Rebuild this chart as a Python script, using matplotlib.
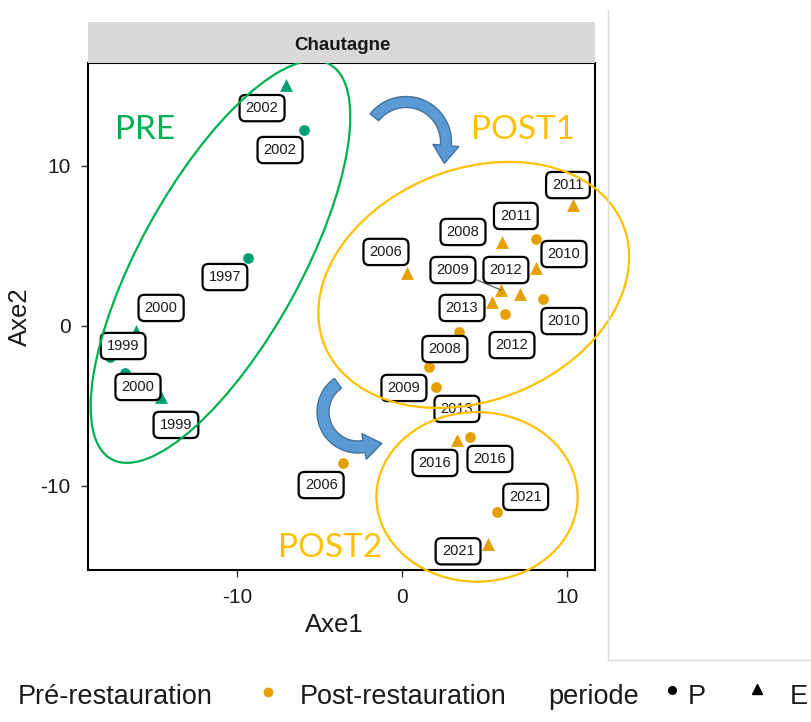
import matplotlib
matplotlib.use("Agg")
import matplotlib.pyplot as plt
import numpy as np
from matplotlib.patches import Ellipse, Polygon
from matplotlib.lines import Line2D

plt.rcParams['font.family'] = ['Liberation Sans', 'DejaVu Sans']
plt.rcParams['axes.unicode_minus'] = False

# ---------------- data ----------------
pre_years = ["2002", "2002", "1997", "2000", "1999", "2000", "1999"]
pre_period = ["E", "P", "P", "E", "P", "P", "E"]
pre_x = [-7.03, -5.94, -9.35, -16.1, -17.7, -16.8, -14.6]
pre_y = [15.04, 12.23, 4.25, -0.33, -1.95, -2.96, -4.46]

post_years = ["2006", "2006", "2008", "2008", "2009", "2009", "2010", "2010", "2011",
              "2011", "2012", "2012", "2013", "2013", "2016", "2016", "2021", "2021"]
post_period = ["E", "P", "E", "P", "E", "P", "E", "P", "E",
               "P", "E", "P", "E", "P", "E", "P", "E", "P"]
post_x = [0.30, -3.58, 6.06, 3.45, 6.00, 1.64, 8.12, 8.55, 10.36,
          8.12, 7.15, 6.24, 5.45, 2.06, 3.33, 4.12, 5.21, 5.76]
post_y = [3.29, -8.58, 5.23, -0.39, 2.23, -2.58, 3.61, 1.67, 7.53,
          5.42, 1.98, 0.73, 1.48, -3.83, -7.14, -6.96, -13.64, -11.64]

x_ticks = [-10, 0, 10]
y_ticks = [-10, 0, 10]

# ---------------- layout (label offsets from their points) ----------------
pre_lab_dx = [-1.45, -1.45, -1.38, 1.5, 0.8, 0.8, 0.9]
pre_lab_dy = [-1.44, -1.25, -1.21, 1.44, 0.68, -0.87, -1.74]
post_lab_dx = [-1.27, -1.32, -2.36, -0.85, -2.91, -1.52, 1.70, 1.27, -0.30,
               -1.22, -0.85, 0.43, -1.81, 1.27, -1.33, 1.21, -1.81, 1.74]
post_lab_dy = [1.32, -1.38, 0.63, -1.07, 1.25, -1.31, 0.87, -1.38, 1.26,
               1.44, 1.50, -1.94, -0.37, -1.37, -1.44, -1.37, -0.46, 0.94]

COL_PRE = "#009E73"
COL_POST = "#E69F00"
COL_GREEN = "#00B050"
COL_GOLD = "#FFC000"

W, H = 812, 722
fig = plt.figure(figsize=(W / 100, H / 100), dpi=100)


def fx(x):
    return x / W


def fy(y):
    return 1 - y / H


ax = fig.add_axes([fx(88.5), fy(570), (595.5 - 88.5) / W, (570 - 63) / H])
ax.set_xlim(-19.0, 11.73)
ax.set_ylim(-15.27, 16.42)

# strip
sax = fig.add_axes([fx(88.5), fy(63), (595.5 - 88.5) / W, (63 - 22) / H])
sax.set_facecolor("#D9D9D9")
sax.set_xticks([])
sax.set_yticks([])
for s in sax.spines.values():
    s.set_visible(False)
sax.text(0.5, 0.42, "Chautagne", ha="center", va="center", fontsize=13.5,
         fontweight="bold", color="#1A1A1A", transform=sax.transAxes)


def draw_group(xs, ys, periods, years, dxs, dys, color):
    for x, y, p, yr, dx, dy in zip(xs, ys, periods, years, dxs, dys):
        m = "o" if p == "P" else "^"
        s = 60 if p == "P" else 85
        ax.scatter([x], [y], marker=m, s=s, color=color, zorder=3, linewidths=0)
        lx, ly = x + dx, y + dy
        if np.hypot(dx, dy) > 2.8:
            ax.plot([x, lx], [y, ly], color="#666666", lw=0.9, zorder=3.5)
        ax.text(lx, ly, yr, ha="center", va="center", fontsize=10.5, color="#1A1A1A",
                zorder=4,
                bbox=dict(boxstyle="round,pad=0.42,rounding_size=0.4", fc="white",
                          ec="black", lw=1.6))


draw_group(pre_x, pre_y, pre_period, pre_years, pre_lab_dx, pre_lab_dy, COL_PRE)
draw_group(post_x, post_y, post_period, post_years, post_lab_dx, post_lab_dy, COL_POST)

# ellipses (annotations)
ax.add_patch(Ellipse((-11.0, 4.0), width=2 * 14.0, height=2 * 4.9, angle=62,
                     fill=False, ec=COL_GREEN, lw=1.6, zorder=5, clip_on=False))
ax.add_patch(Ellipse((4.35, 2.55), width=2 * 9.8, height=2 * 7.2, angle=24,
                     fill=False, ec=COL_GOLD, lw=1.6, zorder=5, clip_on=False))
ax.add_patch(Ellipse((4.55, -10.7), width=2 * 6.1, height=2 * 5.3, angle=0,
                     fill=False, ec=COL_GOLD, lw=1.6, zorder=5, clip_on=False))

# group annotations
fig.text(fx(145), fy(130), "PRE", color=COL_GREEN, fontsize=24, family="Lato",
         ha="center", va="center")
fig.text(fx(523), fy(130), "POST1", color=COL_GOLD, fontsize=24, family="Lato",
         ha="center", va="center")
fig.text(fx(330), fy(548), "POST2", color=COL_GOLD, fontsize=24, family="Lato",
         ha="center", va="center")


# curved arrows (pixel geometry)
def curved_arrow(cx, cy, r, a0, a1, w, hw, hl, n=60):
    th = np.radians(np.linspace(a0, a1, n))
    sgn = np.sign(a1 - a0)
    outer = [(cx + (r + w) * np.cos(t), cy - (r + w) * np.sin(t)) for t in th]
    inner = [(cx + (r - w) * np.cos(t), cy - (r - w) * np.sin(t)) for t in th[::-1]]
    te = th[-1]
    tx, ty = -np.sin(te) * sgn, np.cos(te) * sgn
    bo = (cx + (r + hw) * np.cos(te), cy - (r + hw) * np.sin(te))
    bi = (cx + (r - hw) * np.cos(te), cy - (r - hw) * np.sin(te))
    mx, my = cx + r * np.cos(te), cy - r * np.sin(te)
    tip = (mx + hl * tx, my - hl * ty)
    pts = outer + [bo, tip, bi] + inner
    pts = [(fx(a), fy(b)) for a, b in pts]
    fig.patches.append(Polygon(pts, closed=True, fc="#5B9BD5", ec="#41719C", lw=1.0,
                               transform=fig.transFigure, figure=fig, zorder=6))


curved_arrow(406, 142, 40, 142, -5, 5.5, 13, 18)
curved_arrow(358, 412, 35, 125, 280, 6, 13, 18)

# axes styling
ax.set_xticks(x_ticks)
ax.set_yticks(y_ticks)
ax.tick_params(direction="out", length=5, width=1.0, color="#333333",
               labelsize=15, labelcolor="#1A1A1A", pad=8)
for s in ax.spines.values():
    s.set_linewidth(1.5)
    s.set_color("black")
ax.set_xlabel("Axe1", fontsize=18.5, color="#1A1A1A", labelpad=5)
ax.xaxis.set_label_coords(0.485, -0.085)
ax.set_ylabel("Axe2", fontsize=18.5, color="#1A1A1A", labelpad=6)

# frame lines at right
fig.add_artist(Line2D([fx(608), fx(608)], [fy(10), fy(660)], color="#D9D9D9", lw=1.0,
                      transform=fig.transFigure))
fig.add_artist(Line2D([fx(608), fx(812)], [fy(660), fy(660)], color="#D9D9D9", lw=1.0,
                      transform=fig.transFigure))

# legend row
ly = 697
fs = 19.5
fig.text(fx(18), fy(ly), "Pré-restauration", fontsize=fs, va="center", ha="left", color="#1A1A1A")
fig.add_artist(Line2D([fx(268)], [fy(692)], marker="o", ms=6, color=COL_POST, lw=0,
                      transform=fig.transFigure))
fig.text(fx(300), fy(ly), "Post-restauration", fontsize=fs, va="center", ha="left", color="#1A1A1A")
fig.text(fx(548), fy(ly), "periode", fontsize=fs, va="center", ha="left", color="#1A1A1A")
fig.add_artist(Line2D([fx(672)], [fy(690)], marker="o", ms=5.5, color="black", lw=0,
                      transform=fig.transFigure))
fig.text(fx(688), fy(ly), "P", fontsize=fs, va="center", ha="left", color="#1A1A1A")
fig.add_artist(Line2D([fx(757)], [fy(689)], marker="^", ms=6.5, color="black", lw=0,
                      transform=fig.transFigure))
fig.text(fx(790), fy(ly), "E", fontsize=fs, va="center", ha="left", color="#1A1A1A")

fig.savefig("out.png", dpi=100)
